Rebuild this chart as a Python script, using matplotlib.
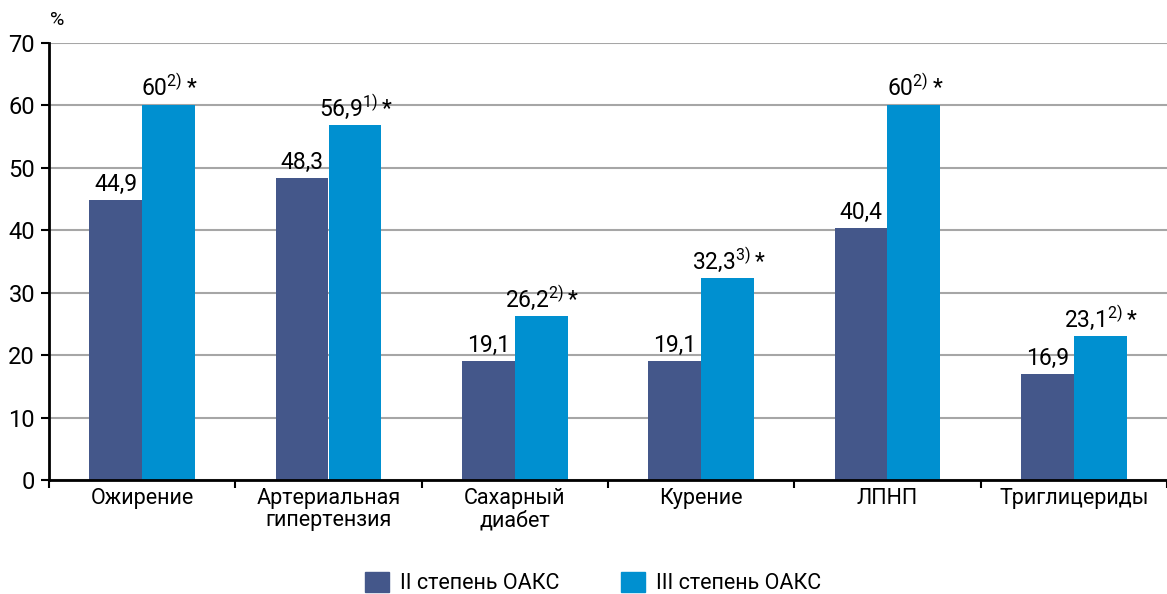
import matplotlib
matplotlib.use('Agg')
import matplotlib.pyplot as plt
from matplotlib.patches import Patch

plt.rcParams['font.family'] = ['Roboto', 'DejaVu Sans']
plt.rcParams['mathtext.fontset'] = 'custom'
plt.rcParams['mathtext.rm'] = 'Roboto'

categories = ['Ожирение', 'Артериальная\nгипертензия', 'Сахарный\nдиабет',
              'Курение', 'ЛПНП', 'Триглицериды']
grade2 = [44.9, 48.3, 19.1, 19.1, 40.4, 16.9]
grade3 = [60, 56.9, 26.2, 32.3, 60, 23.1]
notes3 = ['2)', '1)', '2)', '3)', '2)', '2)']
series_names = ['II степень ОАКС', 'III степень ОАКС']

c_dark = '#44578A'
c_light = '#0090D0'

fig = plt.figure(figsize=(11.67, 5.94), dpi=100)
ax = fig.add_axes([49 / 1167, 1 - 480 / 594, 1 - 49 / 1167, (480 - 43) / 594])

x = list(range(len(categories)))
w = 0.283
ax.bar([i - w / 2 for i in x], grade2, width=w, color=c_dark, zorder=3)
ax.bar([i + w / 2 for i in x], grade3, width=w, color=c_light, zorder=3)

def fmt(v):
    s = ('%.1f' % v).rstrip('0').rstrip('.')
    return s.replace('.', ',')

for i in x:
    ax.annotate(fmt(grade2[i]), (i - w / 2, grade2[i]), xytext=(0, 3),
                textcoords='offset points', ha='center', va='bottom', fontsize=16.5)
    num = fmt(grade3[i]).replace(',', '{,}')
    lab = r'$\mathregular{%s^{%s}*}$' % (num, notes3[i])
    ax.annotate(lab, (i + w / 2, grade3[i]), xytext=(1, 3),
                textcoords='offset points', ha='center', va='bottom', fontsize=16.5)

ax.set_ylim(0, 70)
ax.set_yticks(range(0, 71, 10))
ax.set_xlim(-0.5, -0.5 + (1167 - 49) / 188.5)
ax.set_xticks([i - 0.5 for i in range(len(categories) + 1)])
ax.set_xticklabels([])
ax.set_xticks(x, minor=True)
ax.set_xticklabels(categories, minor=True, fontsize=15.5, linespacing=1.05)
ax.tick_params(axis='x', which='minor', length=0, pad=6)
ax.tick_params(axis='x', which='major', length=6, width=1.5, direction='out')
ax.tick_params(axis='y', length=6, width=1.5, labelsize=17, pad=4)

ax.grid(axis='y', color='#A6A6A6', linewidth=1.5, zorder=0)
for s in ['top', 'right']:
    ax.spines[s].set_visible(False)
for s in ['left', 'bottom']:
    ax.spines[s].set_linewidth(2)
    ax.spines[s].set_zorder(4)

fig.text(57 / 1167, 1 - 20 / 594, '%', fontsize=14, ha='center', va='center')

handles = [Patch(color=c_dark), Patch(color=c_light)]
fig.legend(handles, series_names, loc='center', bbox_to_anchor=(593 / 1167, 1 - 583 / 594),
           ncol=2, frameon=False, fontsize=15.5, handlelength=1.1, handleheight=1.1,
           columnspacing=2.9, handletextpad=0.5)

fig.savefig('out.png', dpi=100)
